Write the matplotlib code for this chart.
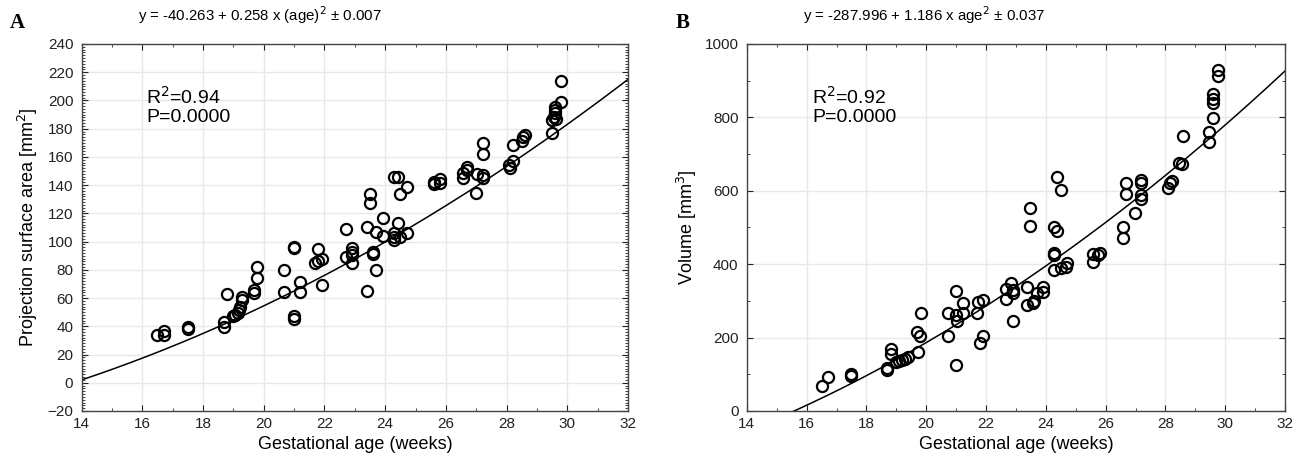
import matplotlib
matplotlib.use("Agg")
import matplotlib.pyplot as plt
from matplotlib.ticker import MultipleLocator
import numpy as np

plt.rcParams['font.family'] = ['Liberation Sans', 'DejaVu Sans']

# panel A: projection surface area [mm2] vs gestational age (weeks)
age_a = [16.5, 16.7, 16.7, 17.5, 17.5, 18.7, 18.7, 18.8, 19.0, 19.05,
         19.15, 19.19, 19.22, 19.27, 19.3, 19.69, 19.69, 19.79, 19.79, 20.68,
         20.68, 21.0, 21.0, 21.0, 21.0, 21.19, 21.19, 21.8, 21.69, 21.8,
         21.91, 21.91, 22.7, 22.7, 22.9, 22.9, 22.9, 22.9, 23.41, 23.41,
         23.5, 23.5, 23.59, 23.59, 23.7, 23.7, 23.92, 23.92, 24.29, 24.29,
         24.49, 24.29, 24.71, 24.41, 24.29, 24.43, 24.49, 24.71, 25.6, 25.6,
         25.8, 25.8, 26.57, 26.57, 26.7, 26.7, 27.01, 26.99, 27.21, 27.21,
         27.21, 27.21, 28.09, 28.11, 28.2, 28.2, 28.5, 28.55, 28.6, 29.48,
         29.48, 29.55, 29.6, 29.6, 29.58, 29.62, 29.79, 29.79]
area = [33.8, 36.9, 33.8, 39.3, 38.3, 42.8, 39.5, 62.7, 47, 48,
        49.5, 51.6, 54, 58.6, 61, 65.7, 63.4, 74.4, 81.8, 79.9,
        64.5, 96.4, 95.3, 47.5, 45.2, 71.2, 64.1, 94.8, 85.1, 86.3,
        87.7, 69.3, 108.7, 88.9, 95.3, 92.9, 90.5, 84.6, 110.6, 65.2,
        127.6, 134, 92.9, 91.2, 107, 79.9, 116.5, 104, 106.3, 103.5,
        103.5, 101.2, 105.9, 113, 146, 146, 133.5, 138.5, 141, 142.5,
        144, 141.5, 148.4, 144.9, 152.7, 150.8, 147.9, 134.7, 147.2, 144.9,
        170.1, 162.1, 154.3, 151.9, 157.3, 168.4, 171.3, 174.3, 175.5, 177.2,
        186.2, 188.5, 190.9, 193.2, 195.1, 186.7, 199.1, 213.6]

# panel B: volume [mm3] vs gestational age (weeks)
age_b = [16.5, 16.73, 17.5, 17.5, 18.7, 18.7, 18.81, 18.81, 19.0, 19.1,
         19.2, 19.3, 19.4, 19.72, 19.68, 19.79, 19.82, 20.72, 20.72, 21.0,
         21.0, 21.0, 21.02, 21.22, 21.22, 21.69, 21.74, 21.91, 21.8, 21.91,
         22.67, 22.67, 22.83, 22.89, 22.89, 22.91, 23.38, 23.38, 23.47, 23.47,
         23.58, 23.62, 23.69, 23.92, 23.92, 24.27, 24.38, 24.38, 24.5, 24.27,
         24.27, 24.27, 24.5, 24.68, 24.7, 25.59, 25.59, 25.82, 25.76, 26.57,
         26.57, 26.68, 26.68, 26.98, 27.17, 27.17, 27.17, 27.17, 28.08, 28.15,
         28.21, 28.46, 28.54, 28.58, 29.47, 29.47, 29.58, 29.58, 29.58, 29.58,
         29.77, 29.77]
volume = [68, 93, 100, 95, 116, 112, 168, 155, 134, 137,
          139, 143, 146, 162, 214, 203, 268, 203, 268, 328,
          125, 261, 246, 268, 295, 268, 298, 302, 186, 204,
          332, 305, 350, 330, 246, 321, 339, 289, 552, 504,
          294, 300, 321, 339, 325, 502, 491, 637, 602, 431,
          425, 384, 389, 393, 402, 428, 407, 430, 425, 500,
          470, 620, 591, 540, 629, 622, 589, 577, 607, 620,
          627, 675, 673, 749, 734, 761, 799, 840, 849, 863,
          929, 913]

# fitted curves y = a + b * age^2
fit_a = (-48.4, 0.2572)
fit_b = (-287.996, 1.186)

fig = plt.figure(figsize=(12.95, 4.69), dpi=100)
ax1 = fig.add_axes([0.063, 0.1237, 0.422, 0.7825])
ax2 = fig.add_axes([0.5767, 0.1237, 0.4156, 0.7825])

xs = np.linspace(14, 32, 200)

def style(ax, ymin, ymax, ymaj, ymin_step):
	ax.set_xlim(14, 32)
	ax.set_ylim(ymin, ymax)
	ax.xaxis.set_major_locator(MultipleLocator(2))
	ax.xaxis.set_minor_locator(MultipleLocator(1))
	ax.yaxis.set_major_locator(MultipleLocator(ymaj))
	ax.yaxis.set_minor_locator(MultipleLocator(ymin_step))
	ax.grid(True, which='major', color='#e8e8e8', linewidth=1.0)
	ax.set_axisbelow(True)
	ax.tick_params(which='both', direction='in', top=True, right=True,
		colors='#222222', labelsize=11)
	ax.tick_params(which='major', length=4, width=0.8)
	ax.tick_params(which='minor', length=2.5, width=0.6)
	ax.tick_params(axis='y', pad=6)
	ax.tick_params(axis='x', pad=4)
	for s in ax.spines.values():
		s.set_color('#444444')
		s.set_linewidth(1.0)
	ax.set_xlabel('Gestational age (weeks)', fontsize=13, labelpad=4)

ax1.plot(xs, fit_a[0] + fit_a[1] * xs**2, color='black', linewidth=1.1, zorder=2)
ax1.plot(age_a, area, linestyle='none', marker='o', markersize=8,
	markerfacecolor='none', markeredgecolor='black', markeredgewidth=1.6, zorder=3)
style(ax1, -20, 240, 20, 2)
ax1.set_ylabel('Projection surface area [mm$^2$]', fontsize=13, labelpad=5)
ax1.text(0.118, 0.885, 'R$^2$=0.94\nP=0.0000', transform=ax1.transAxes,
	fontsize=14, va='top', ha='left', linespacing=1.1)

ax2.plot(xs, fit_b[0] + fit_b[1] * xs**2, color='black', linewidth=1.1, zorder=2)
ax2.plot(age_b, volume, linestyle='none', marker='o', markersize=8,
	markerfacecolor='none', markeredgecolor='black', markeredgewidth=1.6, zorder=3)
style(ax2, 0, 1000, 200, 100)
ax2.set_ylabel('Volume [mm$^3$]', fontsize=13, labelpad=4)
ax2.text(0.122, 0.885, 'R$^2$=0.92\nP=0.0000', transform=ax2.transAxes,
	fontsize=14, va='top', ha='left', linespacing=1.1)

fig.text(138 / 1295, 1 - 15 / 469, 'y = -40.263 + 0.258 x (age)$^2$ \u00b1 0.007',
	fontsize=10.8, ha='left', va='center')
fig.text(803 / 1295, 1 - 15 / 469, 'y = -287.996 + 1.186 x age$^2$ \u00b1 0.037',
	fontsize=10.8, ha='left', va='center')
fig.text(10 / 1295, 1 - 23 / 469, 'A', fontsize=15, fontweight='bold',
	family='Liberation Serif', ha='left', va='center')
fig.text(676 / 1295, 1 - 23 / 469, 'B', fontsize=15, fontweight='bold',
	family='Liberation Serif', ha='left', va='center')

fig.savefig('out.png', dpi=100)
